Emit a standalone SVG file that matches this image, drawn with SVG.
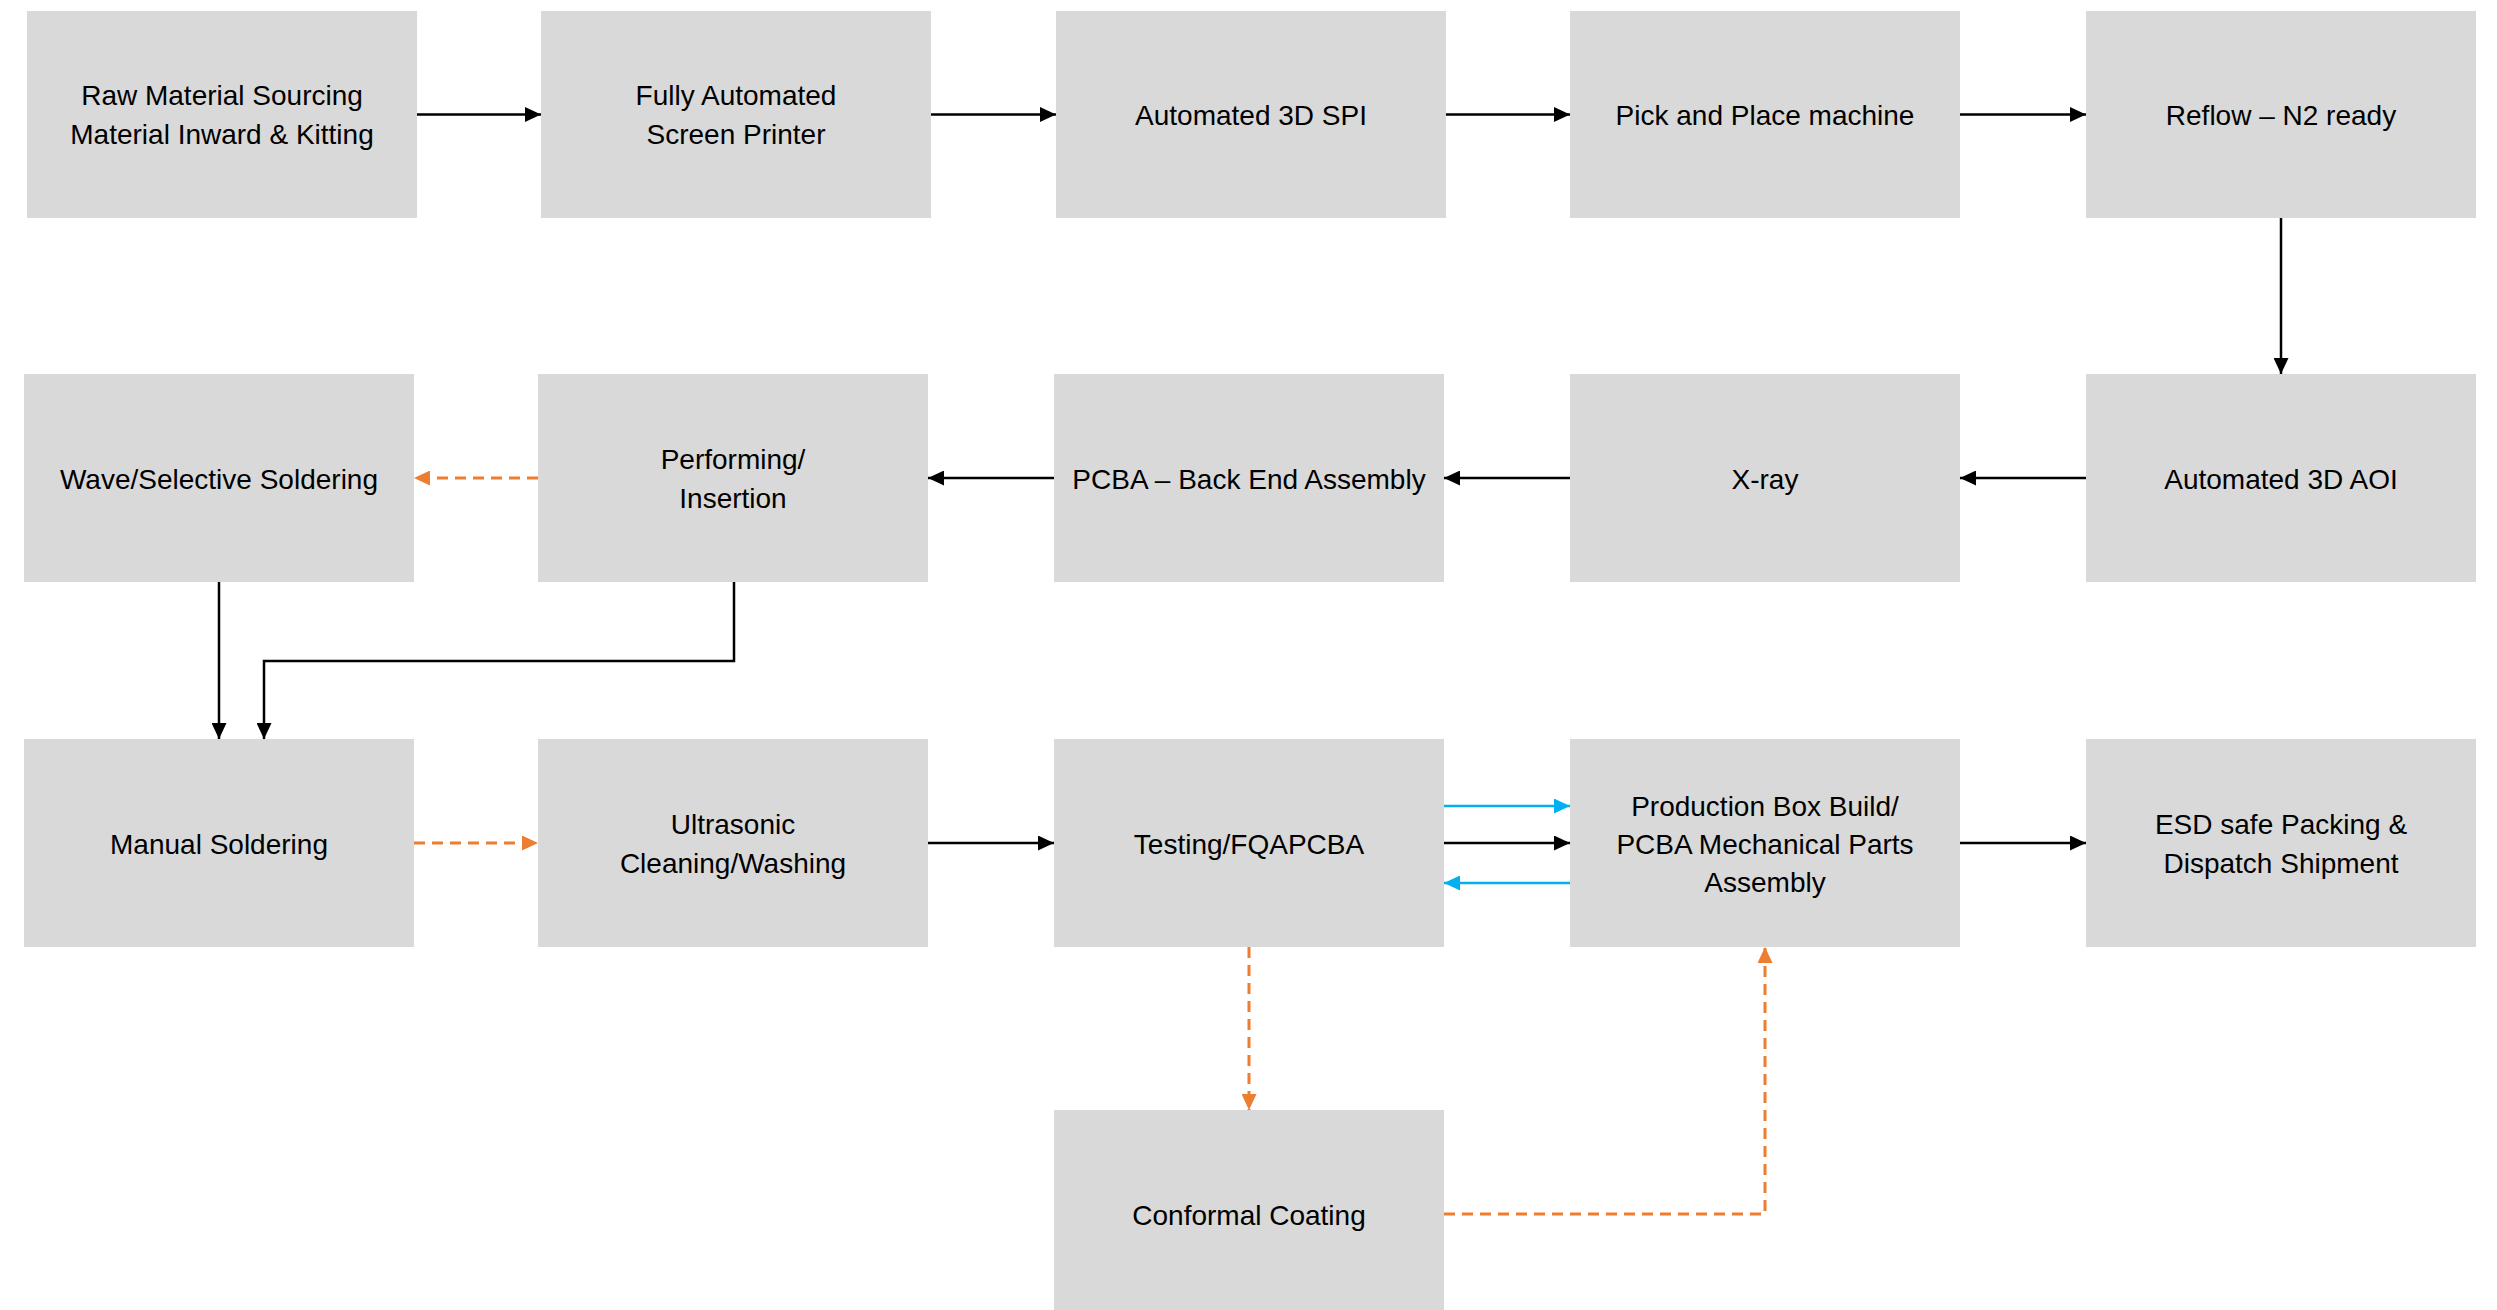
<svg xmlns="http://www.w3.org/2000/svg" width="2497" height="1310" viewBox="0 0 2497 1310">
<style>
.box{fill:#D9D9D9}
.t{font-family:"Liberation Sans",Arial,sans-serif;font-size:28px;fill:#000;text-anchor:middle}
.k{fill:none;stroke:#000;stroke-width:2.5}
.o{fill:none;stroke:#ED7D31;stroke-width:3;stroke-dasharray:11 7}
.b{fill:none;stroke:#00B0F0;stroke-width:2.5}
</style>
<defs>
<marker id="ak" markerUnits="userSpaceOnUse" markerWidth="16" markerHeight="15" refX="16" refY="7.5" orient="auto"><path d="M0,0 L16,7.5 L0,15 z" fill="#000"/></marker>
<marker id="ao" markerUnits="userSpaceOnUse" markerWidth="16" markerHeight="15" refX="16" refY="7.5" orient="auto"><path d="M0,0 L16,7.5 L0,15 z" fill="#ED7D31"/></marker>
<marker id="ab" markerUnits="userSpaceOnUse" markerWidth="16" markerHeight="15" refX="16" refY="7.5" orient="auto"><path d="M0,0 L16,7.5 L0,15 z" fill="#00B0F0"/></marker>
</defs>
<rect width="2497" height="1310" fill="#fff"/>
<g id="n1"><rect class="box" x="27" y="11" width="390" height="207"/><text class="t" x="222" y="105">Raw Material Sourcing</text><text class="t" x="222" y="144">Material Inward &amp; Kitting</text></g>
<g id="n2"><rect class="box" x="541" y="11" width="390" height="207"/><text class="t" x="736" y="105">Fully Automated</text><text class="t" x="736" y="144">Screen Printer</text></g>
<g id="n3"><rect class="box" x="1056" y="11" width="390" height="207"/><text class="t" x="1251" y="125">Automated 3D SPI</text></g>
<g id="n4"><rect class="box" x="1570" y="11" width="390" height="207"/><text class="t" x="1765" y="125">Pick and Place machine</text></g>
<g id="n5"><rect class="box" x="2086" y="11" width="390" height="207"/><text class="t" x="2281" y="125">Reflow – N2 ready</text></g>
<g id="n6"><rect class="box" x="2086" y="374" width="390" height="208"/><text class="t" x="2281" y="489">Automated 3D AOI</text></g>
<g id="n7"><rect class="box" x="1570" y="374" width="390" height="208"/><text class="t" x="1765" y="489">X-ray</text></g>
<g id="n8"><rect class="box" x="1054" y="374" width="390" height="208"/><text class="t" x="1249" y="489">PCBA – Back End Assembly</text></g>
<g id="n9"><rect class="box" x="538" y="374" width="390" height="208"/><text class="t" x="733" y="469">Performing/</text><text class="t" x="733" y="508">Insertion</text></g>
<g id="n10"><rect class="box" x="24" y="374" width="390" height="208"/><text class="t" x="219" y="489">Wave/Selective Soldering</text></g>
<g id="n11"><rect class="box" x="24" y="739" width="390" height="208"/><text class="t" x="219" y="854">Manual Soldering</text></g>
<g id="n12"><rect class="box" x="538" y="739" width="390" height="208"/><text class="t" x="733" y="834">Ultrasonic</text><text class="t" x="733" y="873">Cleaning/Washing</text></g>
<g id="n13"><rect class="box" x="1054" y="739" width="390" height="208"/><text class="t" x="1249" y="854">Testing/FQAPCBA</text></g>
<g id="n14"><rect class="box" x="1570" y="739" width="390" height="208"/><text class="t" x="1765" y="816">Production Box Build/</text><text class="t" x="1765" y="854">PCBA Mechanical Parts</text><text class="t" x="1765" y="892">Assembly</text></g>
<g id="n15"><rect class="box" x="2086" y="739" width="390" height="208"/><text class="t" x="2281" y="834">ESD safe Packing &amp;</text><text class="t" x="2281" y="873">Dispatch Shipment</text></g>
<g id="n16"><rect class="box" x="1054" y="1110" width="390" height="208"/><text class="t" x="1249" y="1225">Conformal Coating</text></g>
<g id="connectors">
<path class="k" marker-end="url(#ak)" d="M417 114.5 H541"/>
<path class="k" marker-end="url(#ak)" d="M931 114.5 H1056"/>
<path class="k" marker-end="url(#ak)" d="M1446 114.5 H1570"/>
<path class="k" marker-end="url(#ak)" d="M1960 114.5 H2086"/>
<path class="k" marker-end="url(#ak)" d="M2281 218 V374"/>
<path class="k" marker-end="url(#ak)" d="M2086 478 H1960"/>
<path class="k" marker-end="url(#ak)" d="M1570 478 H1444"/>
<path class="k" marker-end="url(#ak)" d="M1054 478 H928"/>
<path class="o" marker-end="url(#ao)" d="M538 478 H414"/>
<path class="k" marker-end="url(#ak)" d="M219 582 V739"/>
<path class="k" marker-end="url(#ak)" d="M734 582 V661 H264 V739"/>
<path class="o" marker-end="url(#ao)" d="M414 843 H538"/>
<path class="k" marker-end="url(#ak)" d="M928 843 H1054"/>
<path class="b" marker-end="url(#ab)" d="M1444 806 H1570"/>
<path class="k" marker-end="url(#ak)" d="M1444 843 H1570"/>
<path class="b" marker-end="url(#ab)" d="M1570 883 H1444"/>
<path class="k" marker-end="url(#ak)" d="M1960 843 H2086"/>
<path class="o" marker-end="url(#ao)" d="M1249 947 V1110"/>
<path class="o" marker-end="url(#ao)" d="M1444 1214 H1765 V947"/>
</g>
</svg>
